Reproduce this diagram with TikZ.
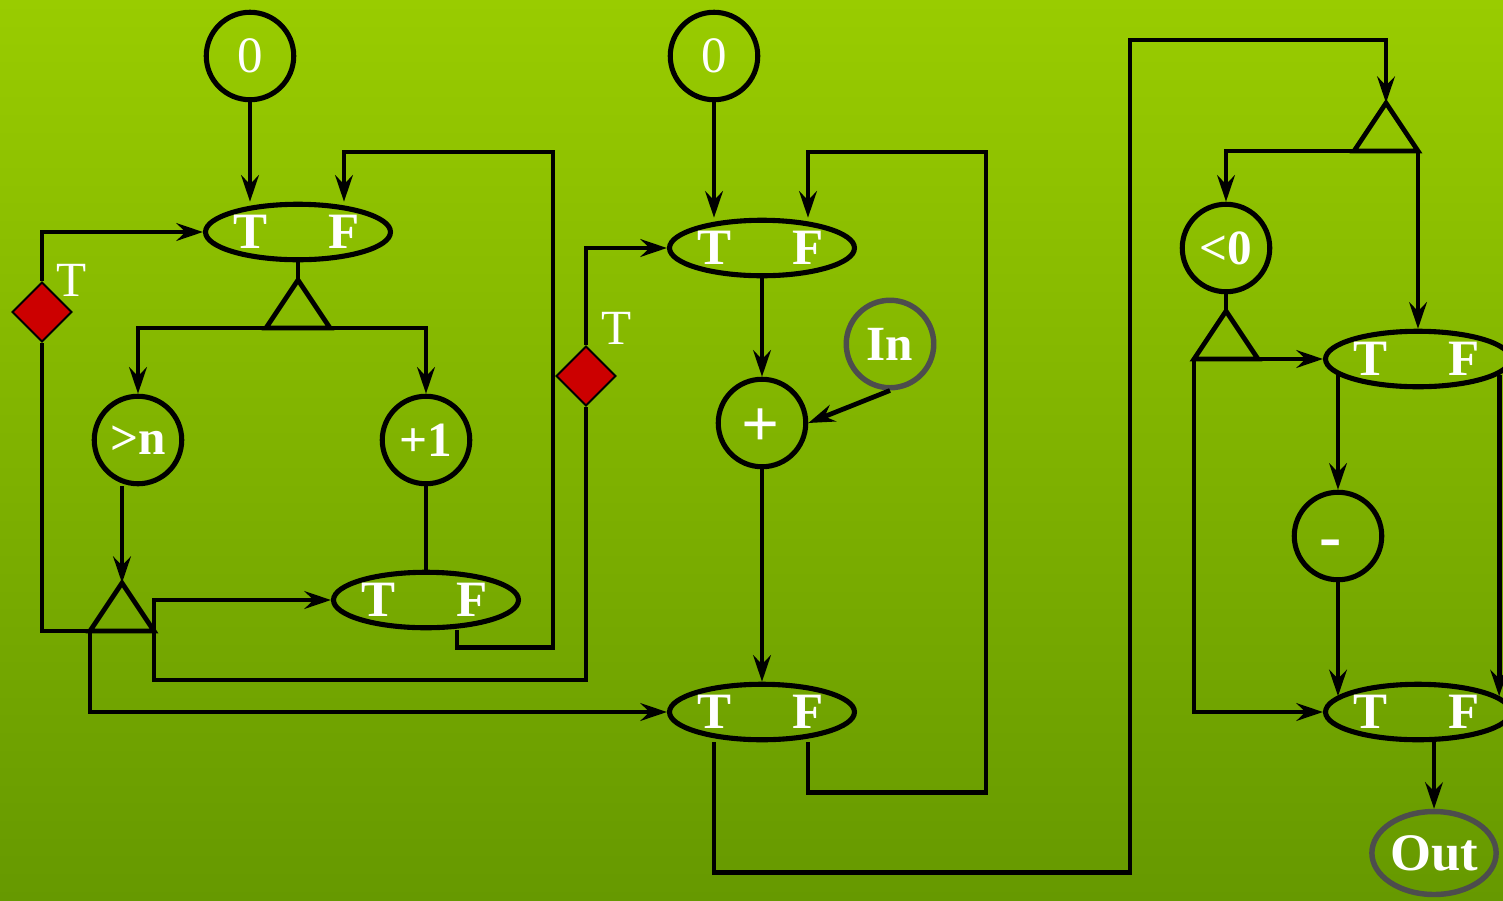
\documentclass[tikz,border=0pt]{standalone}
\usepackage{fontspec}
\setmainfont{Liberation Serif}
\usetikzlibrary{shapes.geometric,arrows.meta}

\definecolor{bgtop}{HTML}{99CC00}
\definecolor{bgbot}{HTML}{669900}
\definecolor{ringgray}{HTML}{4D4D4D}
\definecolor{flagred}{HTML}{CC0000}

\begin{document}
\begin{tikzpicture}[x=0.02cm,y=-0.02cm,
  wire/.style={line width=2.7pt, draw=black},
  arr/.style={wire, -{Stealth[length=15pt,width=10pt,inset=5pt]}},
  gate/.style={ellipse, draw, line width=2.9pt, minimum width=3.7cm,
    minimum height=1.11cm, inner sep=0pt},
  op/.style={circle, draw, line width=2.9pt, minimum size=1.75cm, inner sep=0pt,
    text=white, font=\fontsize{28}{30}\selectfont\bfseries},
  src/.style={op, font=\fontsize{29}{30}\selectfont},
  io/.style={op, draw=ringgray, line width=3.1pt},
  tf/.style={text=white, inner sep=0pt, font=\fontsize{29}{30}\selectfont\bfseries},
  sign/.style={text=white, inner sep=0pt, font=\fontsize{38}{40}\selectfont\bfseries},
  flag/.style={diamond, draw, fill=flagred, line width=1.1pt, minimum size=1.2cm,
    inner sep=0pt},
  flaglbl/.style={text=white, inner sep=0pt, font=\fontsize{28}{30}\selectfont},
  fork/.pic={
    \draw[line width=2.7pt, line join=miter] (0,0) -- (-32,48) -- (32,48) -- cycle;
    \coordinate (-apex) at (0,0);
    \coordinate (-bl) at (-32,48);
    \coordinate (-br) at (32,48);
  },
]
% background
\useasboundingbox (0,0) rectangle (1503,900);
\shade[top color=bgtop, bottom color=bgbot] (0,0) rectangle (1503,900);
\clip (0,0) rectangle (1503,900);

% ---- counter loop (left) ----
\node[src] (c0a) at (250,56) {0};
\node[gate] (e1) at (298,232) {};
\pic (f1) at (298,280) {fork};
\node[op] (cgt) at (138,440) {>n};
\node[op] (cp1) at (426,440) {+1};
\pic (f2) at (122,583) {fork};
\node[gate] (e3) at (426,600) {};
\node[flag] (d1) at (42,312) {};
\node[flaglbl] (d1lbl) at (72,280) {T};
\node[flag] (d2) at (586,376) {};
\node[flaglbl] (d2lbl) at (617,328) {T};

% ---- accumulator loop (middle) ----
\node[src] (c0b) at (714,56) {0};
\node[gate] (e2) at (762,248) {};
\node[op] (cplus) at (762,423) {};
\node[sign] (cplussign) at (761,428) {+};
\node[io] (cin) at (890,344) {In};
\node[gate] (e4) at (762,712) {};

% ---- absolute value (right) ----
\pic (f3) at (1386,103) {fork};
\node[op] (clt) at (1226,248) {<0};
\pic (f4) at (1226,311) {fork};
\node[gate] (e5) at (1418,359) {};
\node[op] (cminus) at (1338,536) {};
\node[sign] (cminussign) at (1331,549) {-};
\node[gate] (e6) at (1418,712) {};
\node[io, ellipse, minimum width=2.34cm, minimum height=1.66cm,
  font=\fontsize{30}{32}\selectfont\bfseries] (out) at (1434,853) {Out};

% T / F labels inside the merge gates
\foreach \g in {e1,e2,e3,e4,e5,e6}{
  \node[tf] (\g T) at ([xshift=-0.96cm]\g.center) {T};
  \node[tf] (\g F) at ([xshift=0.92cm]\g.center) {F};
}

% ---- connectors: left ----
\draw[arr] (c0a) -- (c0a |- e1.north);
\draw[arr] ([xshift=0.62cm]e3.south) -- ++(0,17) -| (553,152) -| (e1F |- e1.north);
\draw[wire] (e1.south) -- (f1-apex);
\draw[arr] (f1-bl) -| (cgt.north);
\draw[arr] (f1-br) -| (cp1.north);
\draw[arr] (f2-apex |- cgt.south) -- (f2-apex);
\draw[wire] (cp1) -- (e3);
\draw[wire] (f2-bl) -| (d1.south);
\draw[arr] (d1.north) |- (e1.west);
\draw[arr] (f2-br) |- (e3.west);
\draw[wire] (f2-br) -- (154,680) -| (d2.south);
\draw[arr] (d2.north) |- (e2.west);
\draw[arr] (f2-bl) |- (e4.west);

% ---- connectors: middle ----
\draw[arr] (c0b) -- (c0b |- e2.north);
\draw[arr] (e4F |- e4.south) -- ++(0,50) -| (986,152) -| (e2F |- e2.north);
\draw[arr] (e2) -- (cplus);
\draw[arr] (cin.south) -- (cplus.east);
\draw[arr] (cplus) -- (e4);
\draw[arr] (e4T |- e4.south) -- ++(0,130) -| (1130,40) -| (f3-apex);

% ---- connectors: right ----
\draw[arr] (f3-br) -| (clt.north);
\draw[arr] (f3-br) -- (f3-br |- e5.north);
\draw[wire] (clt.south) -- (f4-apex);
\draw[arr] (f4-br) -- (e5.west);
\draw[arr] (f4-bl) |- (e6.west);
\draw[arr] (cminus |- e5.191) -- (cminus);
\draw[arr] (cminus) -- (cminus |- e6.169);
\draw[arr] (e5.349) -- (e5.349 |- e6.11);
\draw[arr] (out |- e6.south) -- (out);
\end{tikzpicture}
\end{document}
